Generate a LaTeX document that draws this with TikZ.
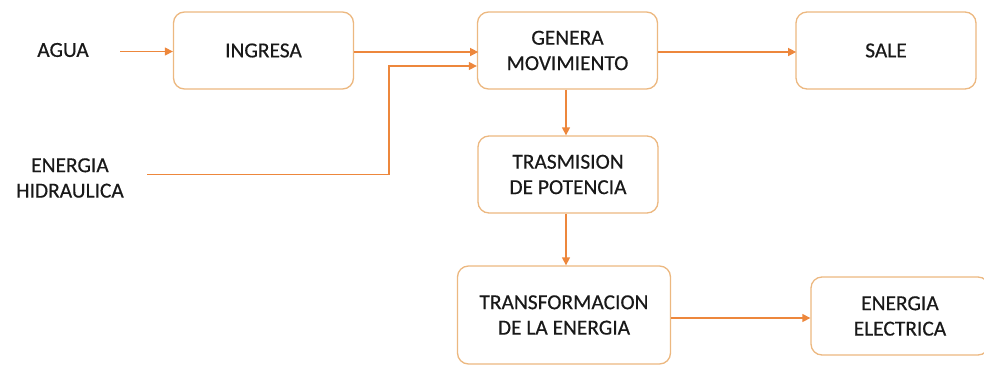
\documentclass[tikz,border=0pt]{standalone}
\usepackage{fontspec}
\setmainfont{Carlito}[FakeBold=0.4]
\usetikzlibrary{positioning,arrows.meta}

\definecolor{borde}{RGB}{236,184,128}
\definecolor{flecha}{RGB}{237,135,60}
\definecolor{texto}{RGB}{25,25,25}

\begin{document}
\begin{tikzpicture}[x=1bp, y=-1bp,
	font=\fontsize{21.5}{25.5}\selectfont, text=texto,
	bloque/.style={draw=borde, line width=1.3bp, rounded corners=11bp, fill=white,
		minimum width=180bp, minimum height=77bp, align=center, inner sep=0pt},
	entrada/.style={align=center, inner sep=0pt},
	flujo/.style={draw=flecha, line width=1.4bp, -{Triangle[length=8bp, width=8bp]}}]

	% ---- margins

	\useasboundingbox (0,0) rectangle (984,367);

	% ---- blocks

	\node[bloque] (ingresa) at (263.5,50.5) {INGRESA};
	\node[bloque] (genera) at (567.5,50.5) {GENERA\\MOVIMIENTO};
	\node[bloque] (sale) at (886,50.5) {SALE};
	\node[bloque] (trasmision) at (568,174.5) {TRASMISION\\DE POTENCIA};
	\node[bloque, minimum width=213bp, minimum height=98bp] (transformacion) at (564,315) {TRANSFORMACION\\DE LA ENERGIA};
	\node[bloque, minimum width=178bp, minimum height=78bp] (electrica) at (900,316) {ENERGIA\\ELECTRICA};

	% ---- inputs

	\node[entrada] (agua) at (63,50) {AGUA};
	\node[entrada] (hidraulica) at (70,178) {ENERGIA\\HIDRAULICA};

	% ---- free ends

	\coordinate (aguaini) at (120,51.5);
	\coordinate (hidini) at (147,174.5);
	\coordinate (codo) at (389,174.5);

	% ---- arrows

	\draw[flujo] (aguaini) -- (aguaini -| ingresa.west);
	\draw[flujo] (ingresa.east) ++(0,1.5) -- ++(124,0);
	\draw[flujo] (hidini) -- (codo) |- ([yshift=-15.5bp]genera.west);
	\draw[flujo] (genera.east) ++(0,1.5) -- ++(138,0);
	\draw[flujo] ([xshift=-1.5bp]genera.south) -- ([xshift=-1.5bp]genera.south |- trasmision.north);
	\draw[flujo] ([xshift=-2bp]trasmision.south) -- ([xshift=-2bp]trasmision.south |- transformacion.north);
	\draw[flujo] ([yshift=-3bp]transformacion.east) -- ([yshift=-3bp]transformacion.east -| electrica.west);

\end{tikzpicture}
\end{document}
